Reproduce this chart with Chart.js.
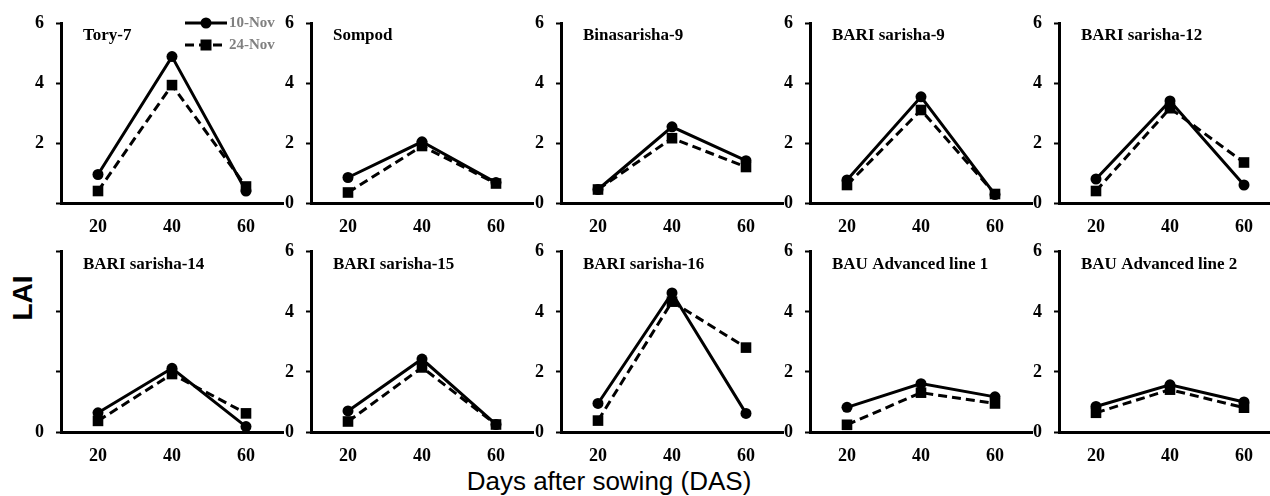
<!DOCTYPE html>
<html>
<head>
<meta charset="utf-8">
<script src="https://cdn.jsdelivr.net/npm/chart.js@4.4.1/dist/chart.umd.min.js"></script>
<style>
  html, body { margin: 0; padding: 0; background: #fff; }
  #wrap { position: relative; width: 1270px; height: 496px; overflow: hidden; background: #fff; }
  canvas { position: absolute; }
  #ytitle { position: absolute; left: 23px; top: 298px; transform: translate(-50%, -50%) rotate(-90deg);
            font: bold 28px "Liberation Sans", Arial, sans-serif; color: #000; white-space: nowrap; }
  #xtitle { position: absolute; left: 609px; top: 481px; transform: translate(-50%, -50%);
            font: 26px "Liberation Sans", Arial, sans-serif; color: #000; white-space: nowrap; }
</style>
</head>
<body>
<div id="wrap">
  <div id="ytitle">LAI</div>
  <div id="xtitle">Days after sowing (DAS)</div>
</div>
<script>
// ---- data ----
const days = ['20', '40', '60'];
const varieties = ['Tory-7', 'Sompod', 'Binasarisha-9', 'BARI sarisha-9', 'BARI sarisha-12',
                   'BARI sarisha-14', 'BARI sarisha-15', 'BARI sarisha-16', 'BAU Advanced line 1', 'BAU Advanced line 2'];
const seriesNames = ['10-Nov', '24-Nov'];
const nov10 = [
  [0.95, 4.88, 0.40],
  [0.85, 2.04, 0.68],
  [0.45, 2.54, 1.41],
  [0.77, 3.54, 0.28],
  [0.80, 3.40, 0.60],
  [0.64, 2.12, 0.18],
  [0.70, 2.43, 0.25],
  [0.95, 4.63, 0.62],
  [0.82, 1.61, 1.17],
  [0.85, 1.57, 1.00]
];
const nov24 = [
  [0.40, 3.93, 0.55],
  [0.35, 1.90, 0.65],
  [0.45, 2.16, 1.20],
  [0.60, 3.10, 0.30],
  [0.40, 3.16, 1.35],
  [0.37, 1.93, 0.62],
  [0.35, 2.15, 0.25],
  [0.38, 4.34, 2.81],
  [0.24, 1.31, 0.95],
  [0.64, 1.41, 0.81]
];
const yTickValues = [0, 2, 4, 6];
// which y tick labels are printed in each panel (as in the original figure)
const yLabelsShown = [
  [2, 4, 6], [0, 2, 4, 6], [0, 2, 4, 6], [0, 2, 4, 6], [0, 2, 4, 6],
  [0], [0, 2, 4, 6], [0, 2, 4, 6], [0, 2, 4, 6], [0, 2, 4, 6]
];

// ---- layout ----
const axisX = [61, 311, 561, 810, 1059];
const rowTop = [0, 229];
const rowPadTop = [23, 20];
const CW = 280, CH = 235, YW = 50, XH = 32;
const serif = '"Liberation Serif", "Times New Roman", serif';

const panelTitle = {
  id: 'panelTitle',
  afterDraw(chart, args, opts) {
    const { ctx, chartArea } = chart;
    ctx.save();
    ctx.font = 'bold 17px ' + serif;
    ctx.fillStyle = '#000';
    ctx.textBaseline = 'middle';
    ctx.textAlign = 'left';
    ctx.fillText(opts.text, chartArea.left + 22, chartArea.top + 13);
    if (opts.legend) {
      const x0 = chartArea.left + 124, x1 = chartArea.left + 166;
      const ys = [chartArea.top, chartArea.top + 22];
      ctx.strokeStyle = '#000';
      ctx.fillStyle = '#000';
      ctx.lineWidth = 3;
      for (let i = 0; i < 2; i++) {
        ctx.setLineDash(i === 0 ? [] : [9, 5]);
        ctx.beginPath();
        ctx.moveTo(x0, ys[i]);
        ctx.lineTo(x1, ys[i]);
        ctx.stroke();
        ctx.setLineDash([]);
        const cx = (x0 + x1) / 2;
        if (i === 0) {
          ctx.beginPath();
          ctx.arc(cx, ys[i], 5.5, 0, Math.PI * 2);
          ctx.fill();
        } else {
          ctx.fillRect(cx - 5.5, ys[i] - 5.5, 11, 11);
        }
      }
      ctx.font = 'bold 15px ' + serif;
      ctx.fillStyle = '#808080';
      ctx.fillText(seriesNames[0], x1 + 2, ys[0]);
      ctx.fillText(seriesNames[1], x1 + 2, ys[1]);
    }
    ctx.restore();
  }
};

const wrap = document.getElementById('wrap');
varieties.forEach((name, i) => {
  const row = Math.floor(i / 5), col = i % 5;
  const cv = document.createElement('canvas');
  cv.width = CW; cv.height = CH;
  cv.style.width = CW + 'px'; cv.style.height = CH + 'px';
  cv.style.left = (axisX[col] - YW) + 'px';
  cv.style.top = rowTop[row] + 'px';
  wrap.appendChild(cv);
  const shown = yLabelsShown[i];
  new Chart(cv.getContext('2d'), {
    type: 'line',
    data: {
      labels: days,
      datasets: [
        {
          label: seriesNames[0], data: nov10[i],
          borderColor: '#000', backgroundColor: '#000', borderWidth: 3,
          pointStyle: 'circle', pointRadius: 5.5, pointBorderWidth: 0, tension: 0, order: 2
        },
        {
          label: seriesNames[1], data: nov24[i],
          borderColor: '#000', backgroundColor: '#000', borderWidth: 3, borderDash: [9, 5],
          pointStyle: 'rect', pointRadius: 7.5, pointBorderWidth: 0, tension: 0, order: 1
        }
      ]
    },
    options: {
      responsive: false,
      animation: false,
      devicePixelRatio: 1,
      clip: false,
      layout: { padding: { top: rowPadTop[row], right: CW - YW - 222, left: 0, bottom: 0 } },
      plugins: {
        legend: { display: false },
        tooltip: { enabled: false },
        panelTitle: { text: name, legend: i === 0 }
      },
      scales: {
        x: {
          type: 'category',
          offset: true,
          grid: { display: false, drawTicks: false },
          border: { display: true, color: '#000', width: 3 },
          ticks: { color: '#000', font: { family: serif, size: 18, weight: 'bold' }, padding: 14, maxRotation: 0 },
          afterFit: s => { s.height = XH; }
        },
        y: {
          min: 0, max: 6,
          afterBuildTicks: s => { s.ticks = yTickValues.map(v => ({ value: v })); },
          grid: { display: true, drawOnChartArea: false, drawTicks: true, tickLength: 5, tickWidth: 2, color: '#000' },
          border: { display: true, color: '#000', width: 3 },
          ticks: {
            color: '#000', font: { family: serif, size: 18, weight: 'bold' }, padding: 12,
            callback: v => shown.includes(v) ? String(v) : ''
          },
          afterFit: s => { s.width = YW; }
        }
      }
    },
    plugins: [panelTitle]
  });
});
</script>
</body>
</html>
